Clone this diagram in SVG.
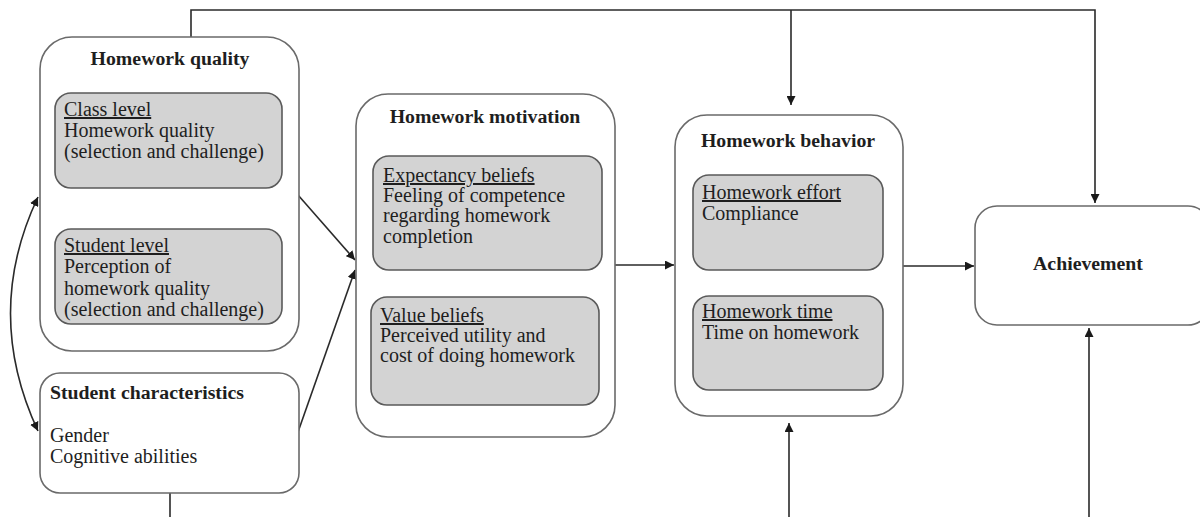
<svg xmlns="http://www.w3.org/2000/svg" width="1200" height="517" viewBox="0 0 1200 517">
<style>
.outer{fill:#fff;stroke:#6a6a6a;stroke-width:1.6}
.inner{fill:#d3d3d3;stroke:#5a5a5a;stroke-width:1.6}
.t{font-family:"Liberation Serif","Times New Roman",serif;font-size:20px;fill:#1e1e1e}
.b{font-weight:bold;font-size:19.8px}
.u{text-decoration:underline}
.c{fill:none;stroke:#2a2a2a;stroke-width:1.6}
</style>
<defs>
<marker id="ah" viewBox="0 0 10 10" refX="10" refY="5" markerWidth="9" markerHeight="9" markerUnits="userSpaceOnUse" orient="auto-start-reverse">
<path d="M0,0 L10,5 L0,10 z" fill="#1a1a1a"/>
</marker>
</defs>
<rect width="1200" height="517" fill="#fff"/>
<g id="connectors">
<path class="c" d="M191,37 V10 H1095 V203" marker-end="url(#ah)"/>
<path class="c" d="M791,10 V105" marker-end="url(#ah)"/>
<path class="c" d="M38,197 Q-17,313 38,431" marker-start="url(#ah)" marker-end="url(#ah)"/>
<path class="c" d="M169,190 V228" marker-start="url(#ah)" marker-end="url(#ah)"/>
<path class="c" d="M298,195 L355,260" marker-end="url(#ah)"/>
<path class="c" d="M298,432 L355,270" marker-end="url(#ah)"/>
<path class="c" d="M615,265 H674" marker-end="url(#ah)"/>
<path class="c" d="M903,266 H974" marker-end="url(#ah)"/>
<path class="c" d="M170,493 V517"/>
<path class="c" d="M789,517 V423" marker-end="url(#ah)"/>
<path class="c" d="M1089,517 V328" marker-end="url(#ah)"/>
</g>
<g id="homework-quality">
<rect class="outer" x="40" y="37" width="259" height="314" rx="32"/>
<text class="t b" x="170" y="65" text-anchor="middle">Homework quality</text>
</g>
<g id="class-level">
<rect class="inner" x="55" y="93" width="227" height="95" rx="16"/>
<text class="t u" x="64" y="116">Class level</text>
<text class="t" x="64" y="137">Homework quality</text>
<text class="t" x="64" y="158">(selection and challenge)</text>
</g>
<g id="student-level">
<rect class="inner" x="55" y="229" width="227" height="95" rx="16"/>
<text class="t u" x="64" y="252">Student level</text>
<text class="t" x="64" y="273">Perception of</text>
<text class="t" x="64" y="295">homework quality</text>
<text class="t" x="64" y="316">(selection and challenge)</text>
</g>
<g id="student-characteristics">
<rect class="outer" x="40" y="373" width="259" height="120" rx="20"/>
<text class="t b" x="50" y="399">Student characteristics</text>
<text class="t" x="50" y="442">Gender</text>
<text class="t" x="50" y="463">Cognitive abilities</text>
</g>
<g id="homework-motivation">
<rect class="outer" x="356" y="94" width="259" height="343" rx="32"/>
<text class="t b" x="485" y="123" text-anchor="middle">Homework motivation</text>
</g>
<g id="expectancy-beliefs">
<rect class="inner" x="373" y="156" width="229" height="114" rx="16"/>
<text class="t u" x="383" y="182">Expectancy beliefs</text>
<text class="t" x="383" y="202">Feeling of competence</text>
<text class="t" x="383" y="222">regarding homework</text>
<text class="t" x="383" y="243">completion</text>
</g>
<g id="value-beliefs">
<rect class="inner" x="371" y="297" width="228" height="108" rx="16"/>
<text class="t u" x="380" y="322">Value beliefs</text>
<text class="t" x="380" y="342">Perceived utility and</text>
<text class="t" x="380" y="362">cost of doing homework</text>
</g>
<g id="homework-behavior">
<rect class="outer" x="675" y="115" width="228" height="301" rx="32"/>
<text class="t b" x="788" y="147" text-anchor="middle">Homework behavior</text>
</g>
<g id="homework-effort">
<rect class="inner" x="693" y="175" width="190" height="95" rx="16"/>
<text class="t u" x="702" y="199">Homework effort</text>
<text class="t" x="702" y="220">Compliance</text>
</g>
<g id="homework-time">
<rect class="inner" x="693" y="296" width="190" height="94" rx="16"/>
<text class="t u" x="702" y="318">Homework time</text>
<text class="t" x="702" y="339">Time on homework</text>
</g>
<g id="achievement">
<rect class="outer" x="975" y="206" width="235" height="119" rx="22"/>
<text class="t b" x="1088" y="270" text-anchor="middle">Achievement</text>
</g>
</svg>
